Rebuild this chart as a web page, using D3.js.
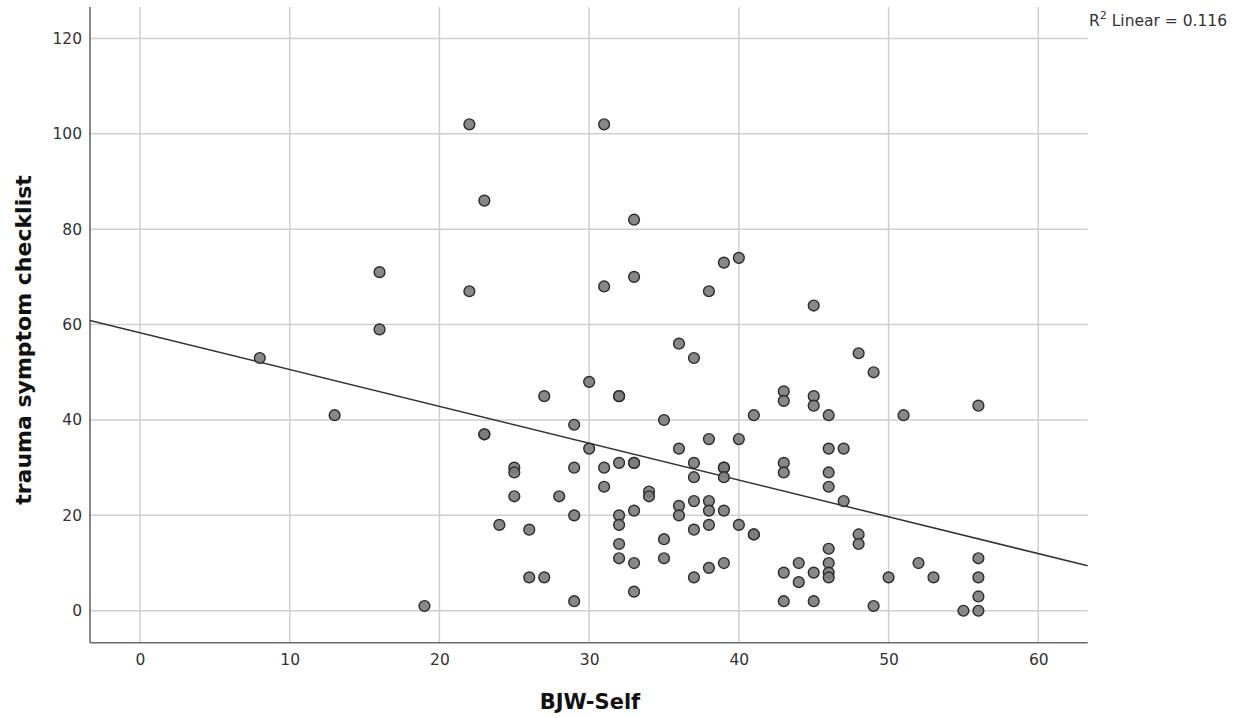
<!DOCTYPE html>
<html>
<head>
<meta charset="utf-8">
<script src="https://cdn.jsdelivr.net/npm/d3@7"></script>
<style>
  html, body { margin: 0; padding: 0; background: #fff; }
  svg { display: block; }
</style>
</head>
<body>
<svg id="chart" width="1243" height="718"></svg>
<script>
// ---- data ----
const bjwSelf = [8,13,16,16,19,22,22,23,23,23,24,25,25,25,26,26,27,27,28,29,29,29,29,30,30,
  31,31,31,31,32,32,32,32,32,32,32,33,33,33,33,33,33,33,34,34,35,35,35,36,36,36,36,
  37,37,37,37,37,37,38,38,38,38,38,38,39,39,39,39,39,39,40,40,40,41,41,41,
  43,43,43,43,43,43,44,44,45,45,45,45,45,46,46,46,46,46,46,46,46,47,47,48,48,48,49,49,
  50,51,52,53,55,56,56,56,56,56];
const traumaScore = [53,41,71,59,1,102,67,86,37,37,18,30,29,24,17,7,45,7,24,39,30,20,2,48,34,
  102,68,30,26,45,45,31,20,18,14,11,82,70,31,31,21,10,4,25,24,40,15,11,56,34,22,20,
  53,31,28,23,17,7,67,36,23,21,18,9,73,30,30,28,21,10,74,36,18,41,16,16,
  46,44,31,29,8,2,10,6,64,45,43,8,2,41,34,29,26,13,10,8,7,34,23,54,16,14,50,1,
  7,41,10,7,0,43,11,7,3,0];
const xTicks = [0, 10, 20, 30, 40, 50, 60];
const yTicks = [0, 20, 40, 60, 80, 100, 120];
const fitIntercept = 58.3;   // fitted linear line as drawn in the reference
const fitSlope = -0.772;
const r2Label = "0.116";
const xTitle = "BJW-Self";
const yTitle = "trauma symptom checklist";

// ---- layout ----
const svg = d3.select("#chart");
const pLeft = 90, pRight = 1087.7, pTop = 7, pBottom = 642.7;
const x = d3.scaleLinear().domain([-3.34, 63.3]).range([pLeft, pRight]);
const y = d3.scaleLinear().domain([-6.7, 126.6]).range([pBottom, pTop]);

const gridColor = "#cfcfcf";
// vertical grid
svg.append("g").selectAll("line").data(xTicks).join("line")
  .attr("x1", d => x(d)).attr("x2", d => x(d))
  .attr("y1", pTop).attr("y2", pBottom)
  .attr("stroke", gridColor).attr("stroke-width", 1.5);
// horizontal grid
svg.append("g").selectAll("line").data(yTicks).join("line")
  .attr("x1", pLeft).attr("x2", pRight)
  .attr("y1", d => y(d)).attr("y2", d => y(d))
  .attr("stroke", gridColor).attr("stroke-width", 1.5);

// axes
const xAxis = d3.axisBottom(x).tickValues(xTicks).tickSize(0).tickPadding(11);
const yAxis = d3.axisLeft(y).tickValues(yTicks).tickSize(0).tickPadding(8);
const gx = svg.append("g").attr("transform", `translate(0,${pBottom})`).call(xAxis);
const gy = svg.append("g").attr("transform", `translate(${pLeft},0)`).call(yAxis);
[gx, gy].forEach(g => {
  g.select(".domain").attr("stroke", "#6b6b6b").attr("stroke-width", 1.6);
  g.selectAll("text").attr("font-family", "DejaVu Sans, sans-serif")
    .attr("font-size", 15.5).attr("fill", "#333");
});
gx.select(".domain").attr("d", `M${pLeft},0H${pRight}`);
gy.select(".domain").attr("d", `M0,${pTop}V${pBottom}`);

// regression line
const xd = x.domain();
svg.append("line")
  .attr("x1", x(xd[0])).attr("y1", y(fitIntercept + fitSlope * xd[0]))
  .attr("x2", x(xd[1])).attr("y2", y(fitIntercept + fitSlope * xd[1]))
  .attr("stroke", "#333").attr("stroke-width", 1.5);

// points
svg.append("g").selectAll("circle").data(bjwSelf.map((v, i) => [v, traumaScore[i]]))
  .join("circle")
  .attr("cx", d => x(d[0])).attr("cy", d => y(d[1]))
  .attr("r", 5.4)
  .attr("fill", "#7b7b7b").attr("fill-opacity", 0.9)
  .attr("stroke", "#2b2b2b").attr("stroke-width", 1.4);

// titles
svg.append("text")
  .attr("x", 590).attr("y", 709)
  .attr("text-anchor", "middle")
  .attr("font-family", "DejaVu Sans, sans-serif").attr("font-weight", "bold")
  .attr("font-size", 21).attr("fill", "#111")
  .text(xTitle);
svg.append("text")
  .attr("transform", "translate(31,340) rotate(-90)")
  .attr("text-anchor", "middle")
  .attr("font-family", "DejaVu Sans, sans-serif").attr("font-weight", "bold")
  .attr("font-size", 22).attr("fill", "#111")
  .text(yTitle);

// R² label
const r2 = svg.append("text")
  .attr("x", 1089).attr("y", 26)
  .attr("font-family", "DejaVu Sans, sans-serif")
  .attr("font-size", 15.5).attr("fill", "#333");
r2.append("tspan").text("R");
r2.append("tspan").attr("dy", -7).attr("font-size", 11).text("2");
r2.append("tspan").attr("dy", 7).text(" Linear = " + r2Label);
</script>
</body>
</html>
